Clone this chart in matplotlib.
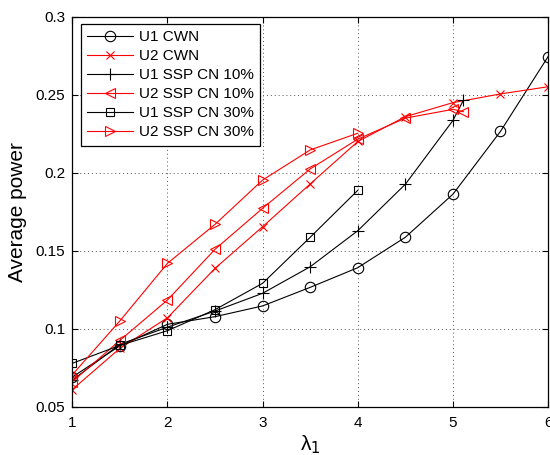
import matplotlib
matplotlib.use("Agg")
import matplotlib.pyplot as plt
import numpy as np

plt.rcParams['font.family'] = ['Liberation Sans', 'DejaVu Sans']

# lambda_1 grids
lam_full = [1, 1.5, 2, 2.5, 3, 3.5, 4, 4.5, 5, 5.5, 6]
lam_10 = [1, 1.5, 2, 2.5, 3, 3.5, 4, 4.5, 5, 5.11]
lam_30 = [1, 1.5, 2, 2.5, 3, 3.5, 4]

# average power per user and scheme
u1_cwn = [0.069, 0.089, 0.1028, 0.1077, 0.1146, 0.1265, 0.1391, 0.1586, 0.1862, 0.2265, 0.2744]
u2_cwn = [0.061, 0.0874, 0.107, 0.1387, 0.1654, 0.1928, 0.2200, 0.2359, 0.2449, 0.2505, 0.2551]
u1_ssp10 = [0.067, 0.090, 0.101, 0.1113, 0.1227, 0.1397, 0.1628, 0.1926, 0.2335, 0.2464]
u2_ssp10 = [0.066, 0.0925, 0.1184, 0.1509, 0.1772, 0.2024, 0.2215, 0.2350, 0.2406, 0.2391]
u1_ssp30 = [0.0778, 0.0893, 0.0987, 0.1122, 0.1291, 0.1586, 0.1887]
u2_ssp30 = [0.0705, 0.105, 0.1419, 0.1669, 0.1953, 0.2146, 0.2253]

xticks = [1, 2, 3, 4, 5, 6]
yticks = [0.05, 0.1, 0.15, 0.2, 0.25, 0.3]
ytick_labels = ['0.05', '0.1', '0.15', '0.2', '0.25', '0.3']

fig = plt.figure(figsize=(5.5, 4.55), dpi=100)
ax = fig.add_axes([0.1315, 0.1062, 0.865, 0.8571])

lw = 0.8
ms = 7.5
series = [
    (lam_full, u1_cwn, 'k', 'o', 'U1 CWN'),
    (lam_full, u2_cwn, 'r', 'x', 'U2 CWN'),
    (lam_10, u1_ssp10, 'k', '+', 'U1 SSP CN 10%'),
    (lam_10, u2_ssp10, 'r', '<', 'U2 SSP CN 10%'),
    (lam_30, u1_ssp30, 'k', 's', 'U1 SSP CN 30%'),
    (lam_30, u2_ssp30, 'r', '>', 'U2 SSP CN 30%'),
]
for x, y, c, m, lab in series:
    size = ms * 0.85 if m in ('x', 's') else (ms * 1.1 if m == '+' else ms)
    ax.plot(x, y, color=c, marker=m, markersize=size, markerfacecolor='none',
            markeredgecolor=c, markeredgewidth=0.8, linewidth=lw, label=lab)

ax.set_xlim(1, 6)
ax.set_ylim(0.05, 0.3)
ax.set_xticks(xticks)
ax.set_xticklabels([str(t) for t in xticks])
ax.set_yticks(yticks)
ax.set_yticklabels(ytick_labels)
ax.tick_params(direction='in', length=4, width=0.8, labelsize=11,
               top=True, right=True)
ax.tick_params(axis='y', pad=5)
ax.tick_params(axis='x', pad=7)
ax.grid(True, linestyle=(0, (1, 3)), color='#555555', linewidth=0.7)
for s in ax.spines.values():
    s.set_linewidth(0.9)

ax.set_xlabel(r'λ$_1$', fontsize=15, labelpad=2)
ax.set_ylabel('Average power', fontsize=15, labelpad=6)

leg = ax.legend(loc='upper left', bbox_to_anchor=(0.018, 0.981), borderaxespad=0,
                fontsize=11, handlelength=3.0, handletextpad=0.4,
                labelspacing=0.33, borderpad=0.4, fancybox=False,
                framealpha=1, edgecolor='k')
leg.get_frame().set_linewidth(0.9)

fig.savefig('out.png', dpi=100)
